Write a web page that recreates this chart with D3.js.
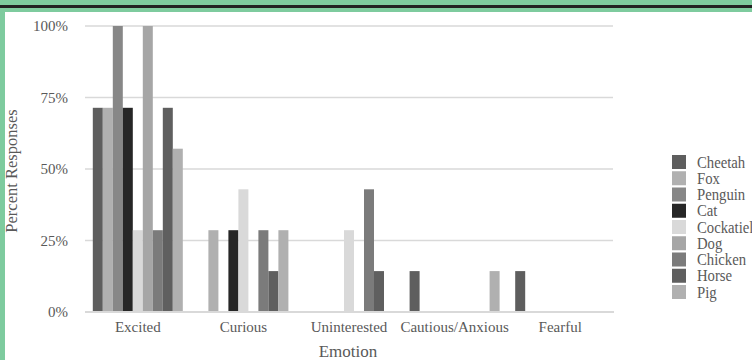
<!DOCTYPE html>
<html>
<head>
<meta charset="utf-8">
<script src="https://cdn.jsdelivr.net/npm/d3@7/dist/d3.min.js"></script>
<style>
  html, body { margin: 0; padding: 0; background: #ffffff; }
  svg { display: block; }
  text { font-family: "Liberation Serif", "Times New Roman", serif; fill: #595959; }
</style>
</head>
<body>
<svg id="chart" width="752" height="360"></svg>
<script>
// Emotion categories on the x axis
const categories = ["Excited", "Curious", "Uninterested", "Cautious/Anxious", "Fearful"];

// Animals (one bar series each)
const animals = ["Cheetah", "Fox", "Penguin", "Cat", "Cockatiel", "Dog", "Chicken", "Horse", "Pig"];

// Percent of responses per animal, one value per emotion category
const cheetah   = [71.4, 0,    0,    14.3, 14.3];
const fox       = [71.4, 28.6, 0,    0,    0];
const penguin   = [100,  0,    0,    0,    0];
const cat       = [71.4, 28.6, 0,    0,    0];
const cockatiel = [28.6, 42.9, 28.6, 0,    0];
const dog       = [100,  0,    0,    0,    0];
const chicken   = [28.6, 28.6, 42.9, 0,    0];
const horse     = [71.4, 14.3, 14.3, 0,    0];
const pig       = [57.1, 28.6, 0,    14.3, 0];

const yTicks = [0, 25, 50, 75, 100];
const yTickLabels = ["0%", "25%", "50%", "75%", "100%"];

const seriesValues = [cheetah, fox, penguin, cat, cockatiel, dog, chicken, horse, pig];
const colors = ["#5e5e5e", "#b0b0b0", "#878787", "#262626", "#d9d9d9", "#a6a6a6", "#7b7b7b", "#5f5f5f", "#b0b0b0"];

const svg = d3.select("#chart");
const W = 752, H = 360;

// Frame: green border with a dark rule along the top
svg.append("rect").attr("x", 0).attr("y", 0).attr("width", W).attr("height", H).attr("fill", "#7ecb9e");
svg.append("rect").attr("x", 5).attr("y", 12).attr("width", W - 5).attr("height", H - 12).attr("fill", "#ffffff");
svg.append("rect").attr("x", 0).attr("y", 5).attr("width", W).attr("height", 3).attr("fill", "#222222");

const plot = { left: 85, right: 613, top: 26, bottom: 312 };

const x0 = d3.scaleBand().domain(categories).range([plot.left, plot.right]).padding(0);
const x1 = d3.scaleBand().domain(animals).range([0, x0.bandwidth()]).paddingInner(0).paddingOuter(0.78);
const y = d3.scaleLinear().domain([0, 100]).range([plot.bottom, plot.top]);

// Horizontal gridlines
svg.append("g").selectAll("line").data(yTicks.filter(t => t > 0)).join("line")
  .attr("x1", plot.left).attr("x2", plot.right)
  .attr("y1", d => y(d)).attr("y2", d => y(d))
  .attr("stroke", "#d9d9d9").attr("stroke-width", 1.5);

// Bars
const groups = svg.append("g").selectAll("g").data(categories).join("g")
  .attr("transform", d => `translate(${x0(d)},0)`);

groups.selectAll("rect")
  .data((c, ci) => animals.map((a, ai) => ({ animal: a, value: seriesValues[ai][ci], color: colors[ai] })))
  .join("rect")
  .attr("x", d => x1(d.animal))
  .attr("width", x1.bandwidth())
  .attr("y", d => y(d.value))
  .attr("height", d => y(0) - y(d.value))
  .attr("fill", d => d.color);

// Baseline
svg.append("line")
  .attr("x1", plot.left).attr("x2", plot.right + 1)
  .attr("y1", y(0)).attr("y2", y(0))
  .attr("stroke", "#d9d9d9").attr("stroke-width", 2);

// Y axis labels
const yAxis = d3.axisLeft(y).tickValues(yTicks).tickFormat((d, i) => yTickLabels[i]).tickSize(0).tickPadding(0);
const yG = svg.append("g").attr("transform", `translate(68,0)`).call(yAxis);
yG.select(".domain").remove();
yG.selectAll("text").attr("font-size", 15).attr("font-family", "Liberation Serif").attr("fill", "#595959");

// X axis labels
const xAxis = d3.axisBottom(x0).tickSize(0).tickPadding(0);
const xG = svg.append("g").attr("transform", `translate(0,${plot.bottom})`).call(xAxis);
xG.select(".domain").remove();
xG.selectAll("text").attr("font-size", 15).attr("font-family", "Liberation Serif").attr("fill", "#595959")
  .attr("dy", null).attr("y", 20);

// Axis titles
svg.append("text").attr("x", (plot.left + plot.right) / 2 - 1).attr("y", 357)
  .attr("text-anchor", "middle").attr("font-size", 17).text("Emotion");
svg.append("text").attr("transform", "translate(17,171) rotate(-90)")
  .attr("text-anchor", "middle").attr("font-size", 16.5).text("Percent Responses");

// Legend
const legend = svg.append("g").attr("transform", "translate(672,155)");
const item = legend.selectAll("g").data(animals).join("g")
  .attr("transform", (d, i) => `translate(0,${i * 16.25})`);
item.append("rect").attr("width", 14).attr("height", 14).attr("fill", (d, i) => colors[i]);
item.append("text").attr("transform", "translate(25,12.5) scale(0.92,1)")
  .attr("font-size", 16).text(d => d);
</script>
</body>
</html>
